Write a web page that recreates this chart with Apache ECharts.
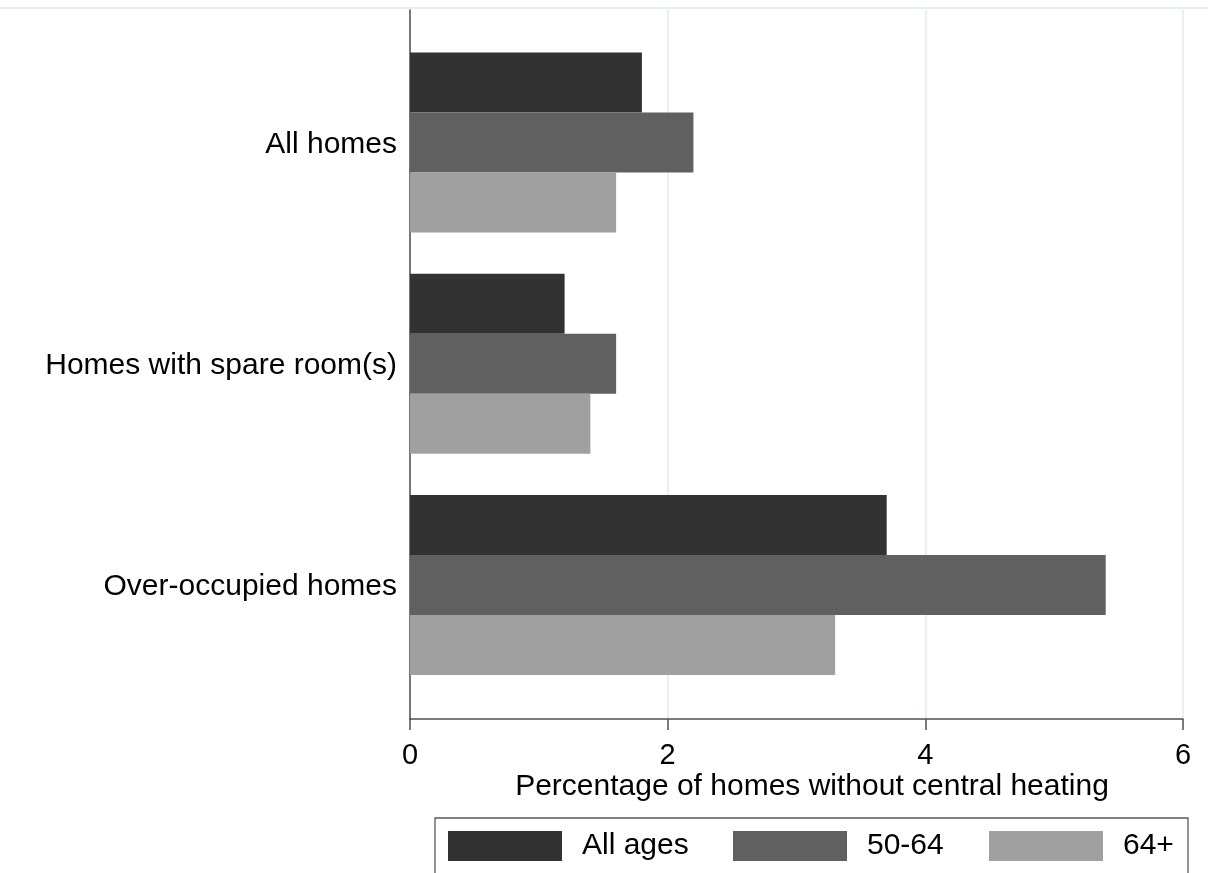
<!DOCTYPE html>
<html>
<head>
<meta charset="utf-8">
<script src="https://cdn.jsdelivr.net/npm/echarts@6/dist/echarts.min.js"></script>
<style>
html,body{margin:0;padding:0;background:#fff;}
#chart{width:1208px;height:873px;}
</style>
</head>
<body>
<div id="chart"></div>
<script>
const categories = ['All homes', 'Homes with spare room(s)', 'Over-occupied homes'];
const seriesNames = ['All ages', '50-64', '64+'];
const allAges = [1.8, 1.2, 3.7];
const age50to64 = [2.2, 1.6, 5.4];
const age64plus = [1.6, 1.4, 3.3];
const xMin = 0, xMax = 6, xInterval = 2;
const axisTitle = 'Percentage of homes without central heating';

const FONT = "'Liberation Sans', Arial, sans-serif";
const colors = ['#323232', '#606060', '#a0a0a0'];
const seriesData = [allAges, age50to64, age64plus];

const chart = echarts.init(document.getElementById('chart'), null, {renderer: 'canvas'});

const legendLefts = [448, 733, 989];

const option = {
  backgroundColor: '#ffffff',
  animation: false,
  textStyle: {fontFamily: FONT},
  grid: [
    {left: 410, width: 773, top: 10, height: 709, containLabel: false},
    {left: 410, width: 773, top: 31.9, height: 663.8, containLabel: false}
  ],
  xAxis: [
    {
      gridIndex: 0, type: 'value', min: xMin, max: xMax, interval: xInterval,
      name: axisTitle, nameLocation: 'middle', nameGap: 53, nameMoveOverlap: false,
      nameTextStyle: {fontSize: 30, color: '#000', fontFamily: FONT, padding: [0, 0, 0, 31]},
      axisLine: {show: true, onZero: false, lineStyle: {color: '#505050', width: 1.5}},
      axisTick: {show: true, length: 11, lineStyle: {color: '#505050', width: 1.5}},
      axisLabel: {fontSize: 29, color: '#000', margin: 22, fontFamily: FONT},
      splitLine: {show: true, lineStyle: {color: '#e8f0f0', width: 2}}
    },
    {
      gridIndex: 1, type: 'value', min: xMin, max: xMax, interval: xInterval, show: false
    }
  ],
  yAxis: [
    {
      gridIndex: 0, type: 'value', min: 0, max: 1,
      axisLine: {show: true, onZero: false, lineStyle: {color: '#505050', width: 1.5}},
      axisTick: {show: false}, axisLabel: {show: false}, splitLine: {show: false}
    },
    {
      gridIndex: 1, type: 'category', inverse: true, data: categories,
      axisLine: {show: false}, axisTick: {show: false},
      axisLabel: {
        fontSize: 30, color: '#000', margin: 13, fontFamily: FONT,
        formatter: v => '{a|' + v + '}',
        rich: {a: {fontSize: 30, color: '#000', fontFamily: FONT, padding: [4, 0, 0, 0]}}
      },
      splitLine: {show: false}
    }
  ],
  legend: seriesNames.map((n, i) => ({
    data: [n], left: legendLefts[i], top: 831, padding: 0,
    itemWidth: 114, itemHeight: 30, icon: 'rect', selectedMode: false,
    textStyle: {fontSize: 30, color: '#000', fontFamily: FONT, padding: [2, 0, 0, 15]}
  })),
  series: seriesNames.map((n, i) => ({
    name: n, type: 'bar', xAxisIndex: 1, yAxisIndex: 1,
    data: seriesData[i], barWidth: 60, barGap: '0%',
    itemStyle: {color: colors[i]}, z: 3
  })),
  graphic: [
    {type: 'line', shape: {x1: 0, y1: 8, x2: 1208, y2: 8}, style: {stroke: '#e6eef0', lineWidth: 2}, silent: true},
    {type: 'rect', shape: {x: 435, y: 818, width: 753, height: 80}, style: {fill: null, stroke: '#5a5a5a', lineWidth: 1.3}, silent: true, z: -1}
  ]
};
chart.setOption(option);
</script>
</body>
</html>
